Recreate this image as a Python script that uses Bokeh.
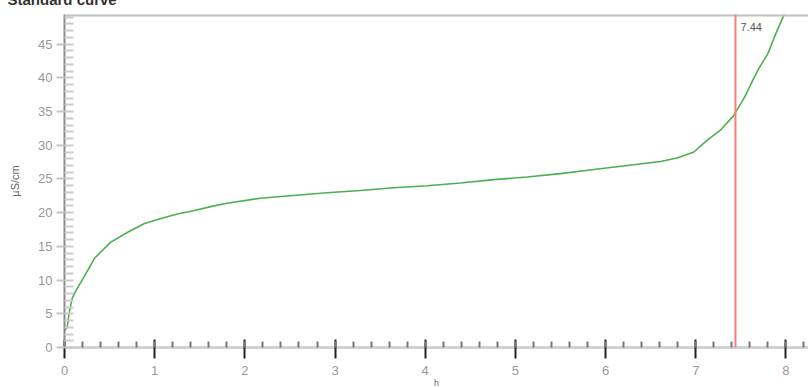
import math
from bokeh.plotting import figure
from bokeh.models import Span, Label, SingleIntervalTicker, Range1d
from bokeh.embed import file_html
from bokeh.resources import INLINE

# data
hours = [0.0, 0.03, 0.05, 0.085, 0.13, 0.2, 0.29, 0.33, 0.51, 0.7, 0.88, 1.06, 1.25, 1.43,
         1.62, 1.8, 2.17, 2.54, 2.91, 3.28, 3.65, 4.02, 4.39, 4.76, 5.13, 5.5, 5.87,
         6.24, 6.61, 6.79, 6.98, 7.12, 7.27, 7.42, 7.54, 7.63, 7.7, 7.8, 7.87, 7.95, 8.0]
conductivity = [2.5, 3.0, 5.0, 7.3, 8.5, 10.1, 12.2, 13.2, 15.6, 17.1, 18.35, 19.1, 19.8, 20.3,
                20.9, 21.4, 22.15, 22.55, 22.95, 23.3, 23.7, 24.0, 24.4, 24.9, 25.3, 25.8, 26.4,
                27.0, 27.6, 28.1, 29.0, 30.7, 32.2, 34.4, 37.1, 39.6, 41.4, 43.6, 46.0, 48.5, 50.0]
marker_x = 7.44
marker_label = "7.44"
title_text = "Standard curve"
x_label = "h"
y_label = "µS/cm"

FONT = "Liberation Sans"
SHIFT = 20  # part of the top border hidden above the window

p = figure(output_backend="svg", toolbar_location=None,
           frame_width=744, frame_height=333,
           x_range=Range1d(0, 8.25), y_range=Range1d(0, 49.4),
           min_border_left=64, min_border_top=14 + SHIFT, min_border_bottom=41, min_border_right=0,
           background_fill_color="white", border_fill_color="white",
           outline_line_color=None,
           styles={"margin-top": f"-{SHIFT}px"})
p.grid.visible = False

p.title.text = title_text
p.title.align = "left"
p.title.offset = -57
p.title.standoff = 13
p.title.text_font = FONT
p.title.text_font_size = "15px"
p.title.text_font_style = "bold"
p.title.text_color = "#333333"

xa = p.xaxis[0]
xa.ticker = SingleIntervalTicker(interval=1, num_minor_ticks=5)
xa.axis_line_color = "#d2d2d2"
xa.axis_line_width = 3
xa.major_tick_line_color = "#222222"
xa.major_tick_line_width = 2
xa.major_tick_in = 8
xa.major_tick_out = 11
xa.minor_tick_line_color = "#777777"
xa.minor_tick_line_width = 2
xa.minor_tick_in = 6
xa.minor_tick_out = 0
xa.major_label_text_color = "#999999"
xa.major_label_text_font = FONT
xa.major_label_text_font_size = "13px"
xa.major_label_standoff = 7
xa.axis_label = x_label
xa.axis_label_text_font = FONT
xa.axis_label_text_font_size = "9px"
xa.axis_label_text_font_style = "normal"
xa.axis_label_text_color = "#666666"
xa.axis_label_standoff = 0

ya = p.yaxis[0]
ya.ticker = SingleIntervalTicker(interval=5, num_minor_ticks=5)
ya.axis_line_color = "#888888"
ya.axis_line_width = 2
ya.major_tick_line_color = "#c4c4c4"
ya.major_tick_line_width = 2
ya.major_tick_in = 0
ya.major_tick_out = 8
ya.minor_tick_line_color = "#cccccc"
ya.minor_tick_line_width = 2
ya.minor_tick_in = 9
ya.minor_tick_out = 0
ya.major_label_text_color = "#999999"
ya.major_label_text_font = FONT
ya.major_label_text_font_size = "13px"
ya.major_label_standoff = 4
ya.axis_label = y_label
ya.axis_label_text_font = FONT
ya.axis_label_text_font_size = "11px"
ya.axis_label_text_font_style = "normal"
ya.axis_label_text_color = "#666666"
ya.axis_label_standoff = 14

# top border line
p.add_layout(Span(location=49.4, dimension="width", line_color="#c0c0c0", line_width=4))

p.line(hours, conductivity, line_color="#4caf50", line_width=1.6)

p.add_layout(Span(location=marker_x, dimension="height", line_color="#ff7b7b", line_width=2))
p.add_layout(Label(x=marker_x, y=49.4, x_offset=5, y_offset=-12, text=marker_label,
                   text_font=FONT, text_font_size="11px", text_color="#555555",
                   text_baseline="middle", text_align="left"))

open("out.html", "w").write(file_html(p, INLINE))
